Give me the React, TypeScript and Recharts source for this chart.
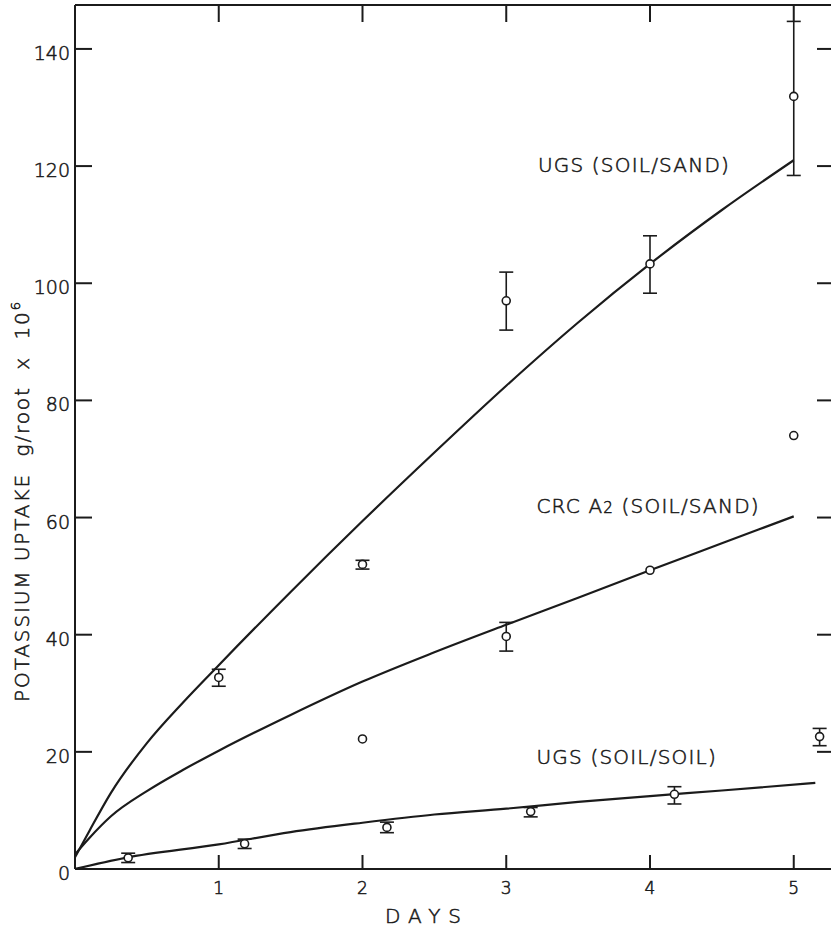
import {
  ComposedChart,
  ErrorBar,
  Line,
  ReferenceDot,
  ReferenceLine,
  Scatter,
  XAxis,
  YAxis,
} from 'recharts'

const INK = '#1b1b1b'
const FONT = '"DejaVu Sans", "Liberation Sans", sans-serif'
// thin lettering, thickened a little with an outline
const TEXT_STYLE = { fontFamily: FONT, fontWeight: 200, fill: INK, stroke: INK, strokeWidth: 0.55 }

// fitted curves at these days
const curveDays = [0, 0.1, 0.25, 0.5, 0.75, 1, 1.5, 2, 2.5, 3, 3.5, 4, 4.5, 5]
const ugsSandCurve = [2, 6.5, 13, 21.5, 28.4, 34.8, 47.3, 59.4, 71.1, 82.5, 93.3, 103.3, 112.5, 121]
const crcCurve = [2.5, 5.3, 9, 13.3, 16.9, 20.2, 26.3, 32, 37, 41.7, 46.3, 51, 55.6, 60.2]
const soilDays = [0, 0.35, 1, 1.5, 2, 2.5, 3, 3.5, 4, 4.5, 5.15]
const soilCurve = [0, 1.9, 4.2, 6.3, 7.9, 9.3, 10.3, 11.45, 12.45, 13.4, 14.7]

// measured points (mean, minus, plus)
const ugsSandDays = [1, 2, 3, 4, 5]
const ugsSandMean = [32.7, 52, 97, 103.3, 131.9]
const ugsSandLow = [1.5, 0.8, 5, 5, 13.5]
const ugsSandHigh = [1.4, 0.7, 4.9, 4.8, 12.8]

const crcBarDays = [3]
const crcBarMean = [39.7]
const crcBarLow = [2.5]
const crcBarHigh = [2.4]

const openDays = [2, 4, 5]
const openMean = [22.2, 51, 74]

const soilPtDays = [0.37, 1.18, 2.17, 3.17, 4.17, 5.18]
const soilPtMean = [1.9, 4.3, 7.1, 9.8, 12.75, 22.6]
const soilPtLow = [0.8, 0.8, 0.9, 0.9, 1.65, 1.55]
const soilPtHigh = [0.8, 0.8, 0.9, 0.7, 1.3, 1.4]

const dayTicks = [1, 2, 3, 4, 5]
const uptakeTicks = [0, 20, 40, 60, 80, 100, 120, 140]

const noteText = ['UGS (SOIL/SAND)', 'CRC A|2| (SOIL/SAND)', 'UGS (SOIL/SOIL)']
const noteDay = [3.22, 3.21, 3.21]
const noteValue = [119, 60.8, 17.9]

const CHART_W = 860
const CHART_H = 929
const PLOT_LEFT = 75
const PLOT_RIGHT = 834
const PLOT_TOP = 5
const PLOT_BOTTOM = 869
const PLOT_W = PLOT_RIGHT - PLOT_LEFT
const PLOT_H = PLOT_BOTTOM - PLOT_TOP
const X_MAX = 5.28
const Y_MAX = 147.5

const toLine = (days: number[], vals: number[]) =>
  days.map((d, i) => ({ x: d, y: vals[i] }))

const toPoints = (days: number[], mean: number[], low?: number[], high?: number[]) =>
  days.map((d, i) => ({
    x: d,
    y: mean[i],
    err: low && high ? [low[i], high[i]] : undefined,
  }))

const ugsSandLine = toLine(curveDays, ugsSandCurve)
const crcLine = toLine(curveDays, crcCurve)
const soilLine = toLine(soilDays, soilCurve)

const ugsSandPts = toPoints(ugsSandDays, ugsSandMean, ugsSandLow, ugsSandHigh)
const crcBarPts = toPoints(crcBarDays, crcBarMean, crcBarLow, crcBarHigh)
const openPts = toPoints(openDays, openMean)
const soilPts = toPoints(soilPtDays, soilPtMean, soilPtLow, soilPtHigh)

function OpenCircle(props: any) {
  const { cx, cy } = props
  if (cx == null || cy == null) return <g />
  return <circle cx={cx} cy={cy} r={4} fill="#fff" stroke={INK} strokeWidth={1.6} />
}

function YTick({ x, y, payload }: any) {
  const ax = x + 5
  return (
    <g>
      <line x1={ax} x2={ax + 17} y1={y} y2={y} stroke={INK} strokeWidth={2} />
      <line x1={ax + PLOT_W - 17} x2={ax + PLOT_W} y1={y} y2={y} stroke={INK} strokeWidth={2} />
      <text x={x} y={y} dy={11} textAnchor="end" fontSize={19} {...TEXT_STYLE}>
        {payload.value}
      </text>
    </g>
  )
}

function XTick({ x, y, payload }: any) {
  const ay = y - 13
  return (
    <g>
      <line x1={x} x2={x} y1={ay} y2={ay - 14} stroke={INK} strokeWidth={2} />
      <line x1={x} x2={x} y1={ay - PLOT_H} y2={ay - PLOT_H + 17} stroke={INK} strokeWidth={2} />
      <text x={x} y={y} dy={12} textAnchor="middle" fontSize={17} {...TEXT_STYLE}>
        {payload.value}
      </text>
    </g>
  )
}

function Note({ viewBox, text }: any) {
  const parts = text.split('|')
  return (
    <text x={viewBox.x} y={viewBox.y} fontSize={20} letterSpacing={1.2} {...TEXT_STYLE}>
      {parts.map((p: string, i: number) => (
        <tspan key={i} fontSize={i === 1 ? 15 : 20}>{p}</tspan>
      ))}
    </text>
  )
}

function App() {
  return (
    <div style={{ position: 'absolute', left: 0, top: 0, width: 831, height: 929, overflow: 'hidden', background: '#fff' }}>
      <ComposedChart
        width={CHART_W}
        height={CHART_H}
        margin={{ top: PLOT_TOP, right: CHART_W - PLOT_RIGHT, bottom: 0, left: 0 }}
      >
        <XAxis
          type="number"
          dataKey="x"
          domain={[0, X_MAX]}
          ticks={dayTicks}
          allowDataOverflow
          height={CHART_H - PLOT_BOTTOM}
          tickSize={0}
          tickMargin={13}
          tick={<XTick />}
          axisLine={{ stroke: INK, strokeWidth: 2 }}
          label={{
            content: () => (
              <text x={427} y={923} textAnchor="middle" fontSize={20} letterSpacing={8} {...TEXT_STYLE}>
                DAYS
              </text>
            ),
          }}
        />
        <YAxis
          type="number"
          domain={[0, Y_MAX]}
          ticks={uptakeTicks}
          allowDataOverflow
          width={PLOT_LEFT}
          tickSize={0}
          tickMargin={5}
          tick={<YTick />}
          axisLine={{ stroke: INK, strokeWidth: 2 }}
          label={{
            content: () => (
              <text
                x={29}
                y={501}
                transform="rotate(-90, 29, 501)"
                textAnchor="middle"
                fontSize={20}
                letterSpacing={1.9}
                {...TEXT_STYLE}
              >
                {'POTASSIUM UPTAKE\u00a0\u00a0g/root\u00a0\u00a0x\u00a0\u00a010'}
                <tspan dy={-9} fontSize={13}>6</tspan>
              </text>
            ),
          }}
        />
        <ReferenceLine y={Y_MAX} stroke={INK} strokeWidth={2} />

        <Line data={ugsSandLine} dataKey="y" type="monotone" stroke={INK} strokeWidth={2.2} dot={false} isAnimationActive={false} />
        <Line data={crcLine} dataKey="y" type="monotone" stroke={INK} strokeWidth={2.2} dot={false} isAnimationActive={false} />
        <Line data={soilLine} dataKey="y" type="monotone" stroke={INK} strokeWidth={2.2} dot={false} isAnimationActive={false} />

        <Scatter data={ugsSandPts} dataKey="y" shape={<OpenCircle />} isAnimationActive={false}>
          <ErrorBar dataKey="err" direction="y" width={7} stroke={INK} strokeWidth={1.6} />
        </Scatter>
        <Scatter data={crcBarPts} dataKey="y" shape={<OpenCircle />} isAnimationActive={false}>
          <ErrorBar dataKey="err" direction="y" width={7} stroke={INK} strokeWidth={1.6} />
        </Scatter>
        <Scatter data={soilPts} dataKey="y" shape={<OpenCircle />} isAnimationActive={false}>
          <ErrorBar dataKey="err" direction="y" width={7} stroke={INK} strokeWidth={1.6} />
        </Scatter>
        <Scatter data={openPts} dataKey="y" shape={<OpenCircle />} isAnimationActive={false} />

        {noteText.map((t, i) => (
          <ReferenceDot
            key={t}
            x={noteDay[i]}
            y={noteValue[i]}
            r={0}
            fill="none"
            stroke="none"
            label={{ content: (p: any) => <Note viewBox={p.viewBox} text={t} /> }}
          />
        ))}
      </ComposedChart>
    </div>
  )
}

export default App
